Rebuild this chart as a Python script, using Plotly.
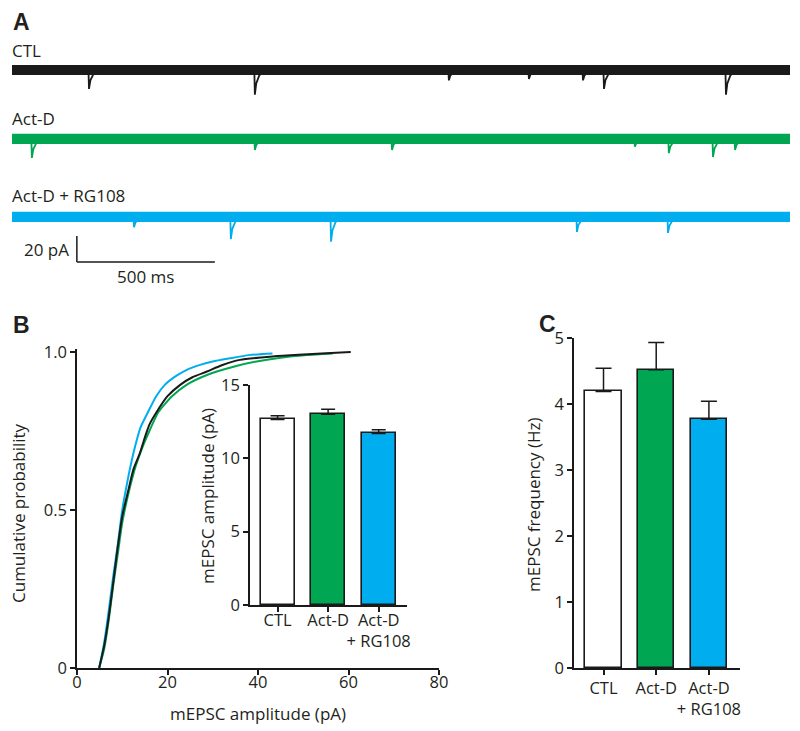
import plotly.graph_objects as go

# page body has an 8px default margin: figure is sized to fit the window with it
PAGE_MARGIN = 8
W, H = 800 - PAGE_MARGIN, 731 - PAGE_MARGIN
FONT = "Open Sans"
TXT = "#231f20"
BLACK = "#1a1a1a"
GREEN = "#00a651"
BLUE = "#00aeef"

# ---------------- Panel A data (traces) ----------------
TRACE_NAMES = ["CTL", "Act-D", "Act-D + RG108"]
TRACE_COLORS = [BLACK, GREEN, BLUE]
TRACE_DURATION_MS = 2819
CTL_EVENT_T = [279, 880, 1583, 1873, 2069, 2145, 2587]
CTL_EVENT_A = [14.6, 19.0, 8.0, 7.0, 8.0, 14.6, 19.0]
ACTD_EVENT_T = [72, 880, 1377, 2257, 2380, 2540, 2620]
ACTD_EVENT_A = [14.6, 8.5, 8.5, 6.0, 11.0, 14.0, 8.5]
RG_EVENT_T = [442, 793, 1156, 2047, 2377]
RG_EVENT_A = [8.0, 17.0, 19.0, 11.5, 12.3]
# mEPSC waveform template (time offset ms, fraction of peak)
EVENT_SHAPE_T = [-2, 0, 5, 16, 40]
EVENT_SHAPE_F = [0, 1, 0.55, 0.22, 0]
NOISE_HALF_PA = 3.3
SCALE_PA = 20
SCALE_MS = 500

# ---------------- Panel B data (cumulative distributions) ----------------
CDF_CTL_X = [4.9, 6, 7, 8, 8.8, 10, 11.3, 12.5, 13.9, 15, 16, 17.6, 20, 22.8, 25.5, 28.7, 32, 36, 42.6, 48, 54, 60.5]
CDF_CTL_Y = [0, 0.07, 0.16, 0.27, 0.36, 0.48, 0.56, 0.63, 0.68, 0.73, 0.77, 0.81, 0.86, 0.896, 0.92, 0.938, 0.958, 0.975, 0.985, 0.99, 0.995, 1.0]
CDF_ACTD_X = [4.9, 6, 7, 8, 9, 10, 11.5, 13, 14.5, 16, 18, 21, 24.2, 27.5, 30.9, 35, 39.7, 45, 50.8, 56.5]
CDF_ACTD_Y = [0, 0.06, 0.15, 0.26, 0.36, 0.46, 0.56, 0.64, 0.70, 0.75, 0.81, 0.86, 0.896, 0.92, 0.938, 0.955, 0.97, 0.982, 0.99, 0.995]
CDF_RG_X = [4.9, 6, 7, 8, 9, 10, 11, 12, 13, 14, 15.7, 17.5, 19.4, 22, 24.5, 27.2, 30, 33.8, 38, 43.2]
CDF_RG_Y = [0, 0.08, 0.18, 0.29, 0.39, 0.50, 0.58, 0.65, 0.71, 0.76, 0.81, 0.86, 0.896, 0.925, 0.945, 0.959, 0.97, 0.98, 0.99, 0.995]

# ---------------- Bar data ----------------
BAR_LABELS = ["CTL", "Act-D", "Act-D<br>+ RG108"]
BAR_COLORS = ["#ffffff", GREEN, BLUE]
AMP_MEAN = [12.65, 13.0, 11.7]
AMP_SEM = [0.25, 0.35, 0.25]
FREQ_MEAN = [4.19, 4.52, 3.77]
FREQ_SEM = [0.35, 0.41, 0.27]
AMP_TICKS = [0, 5, 10, 15]
FREQ_TICKS = [0, 1, 2, 3, 4, 5]
CDF_XTICKS = [0, 20, 40, 60, 80]
CDF_YTICKS = [0, 0.5, 1.0]
CDF_YTICKTEXT = ["0", "0.5", "1.0"]


def px_x(p):
    return (p - PAGE_MARGIN) / W


def px_y(p):
    return 1 - (p - PAGE_MARGIN) / H


fig = go.Figure()

# ---- Panel A ----
offsets = [0, -53, -113]
events = [(CTL_EVENT_T, CTL_EVENT_A), (ACTD_EVENT_T, ACTD_EVENT_A), (RG_EVENT_T, RG_EVENT_A)]
for name, col, off, (ts, amps) in zip(TRACE_NAMES, TRACE_COLORS, offsets, events):
    fig.add_trace(go.Scatter(
        x=[0, TRACE_DURATION_MS, TRACE_DURATION_MS, 0, 0],
        y=[off + NOISE_HALF_PA, off + NOISE_HALF_PA, off - NOISE_HALF_PA, off - NOISE_HALF_PA, off + NOISE_HALF_PA],
        fill="toself", fillcolor=col, mode="lines", line=dict(color=col, width=1.5),
        xaxis="x", yaxis="y", showlegend=False, hoverinfo="skip"))
    ex, ey = [], []
    for t, a in zip(ts, amps):
        for dt, f in zip(EVENT_SHAPE_T, EVENT_SHAPE_F):
            ex.append(t + dt)
            ey.append(off - a * f)
        ex.append(None)
        ey.append(None)
    fig.add_trace(go.Scatter(x=ex, y=ey, mode="lines", line=dict(color=col, width=1.8),
                             xaxis="x", yaxis="y", showlegend=False, hoverinfo="skip"))

sb_t0 = 235
sb_y0 = -147.7
fig.add_shape(type="line", xref="x", yref="y", x0=sb_t0, x1=sb_t0, y0=sb_y0, y1=sb_y0 + SCALE_PA,
              line=dict(color=BLACK, width=1.5))
fig.add_shape(type="line", xref="x", yref="y", x0=sb_t0, x1=sb_t0 + SCALE_MS, y0=sb_y0, y1=sb_y0,
              line=dict(color=BLACK, width=1.5))

# ---- Panel B: CDFs ----
for xs, ys, col in [(CDF_ACTD_X, CDF_ACTD_Y, GREEN), (CDF_RG_X, CDF_RG_Y, BLUE), (CDF_CTL_X, CDF_CTL_Y, BLACK)]:
    fig.add_trace(go.Scatter(x=xs, y=ys, mode="lines", line=dict(color=col, width=2, shape="spline", smoothing=0.6),
                             xaxis="x2", yaxis="y2", showlegend=False))

# ---- inset bars ----
ebar = dict(type="data", symmetric=False, arrayminus=[0, 0, 0], color=BLACK, thickness=1.5, width=7)
fig.add_trace(go.Bar(x=[0, 1, 2], y=AMP_MEAN, width=0.67,
                     marker=dict(color=BAR_COLORS, line=dict(color=BLACK, width=1.6)),
                     error_y=dict(ebar, array=AMP_SEM), xaxis="x3", yaxis="y3", showlegend=False))

# ---- Panel C bars ----
fig.add_trace(go.Bar(x=[0, 1, 2], y=FREQ_MEAN, width=0.69,
                     marker=dict(color=BAR_COLORS, line=dict(color=BLACK, width=1.6)),
                     error_y=dict(ebar, array=FREQ_SEM, width=8), xaxis="x4", yaxis="y4", showlegend=False))

tickfont = dict(family=FONT, size=16.5, color=TXT)
axis_common = dict(showline=True, linecolor=BLACK, linewidth=1.5, ticks="outside", ticklen=5,
                   tickwidth=1.5, tickcolor=BLACK, showgrid=False, zeroline=False, tickfont=tickfont,
                   fixedrange=True, automargin=False, tickangle=0)
hidden = dict(visible=False, showgrid=False, zeroline=False, fixedrange=True, automargin=False)

fig.update_layout(
    width=W, height=H, margin=dict(l=0, r=0, t=0, b=0, autoexpand=False),
    paper_bgcolor="white", plot_bgcolor="rgba(0,0,0,0)",
    font=dict(family=FONT, color=TXT), bargap=0,
    xaxis=dict(hidden, domain=[px_x(12), px_x(790)], range=[0, TRACE_DURATION_MS]),
    yaxis=dict(hidden, domain=[px_y(280), px_y(40)], range=[-161.5, 23]),
    xaxis2=dict(axis_common, domain=[px_x(77), px_x(439)], range=[0, 80], tickvals=CDF_XTICKS,
                anchor="y2", ticklabelstandoff=-7),
    yaxis2=dict(axis_common, domain=[px_y(668), px_y(348.8)], range=[0, 1.01], tickvals=CDF_YTICKS,
                ticktext=CDF_YTICKTEXT, anchor="x2"),
    xaxis3=dict(axis_common, domain=[px_x(250), px_x(407)], range=[-0.545, 2.56], tickvals=[0, 1, 2],
                ticktext=BAR_LABELS, anchor="y3", ticklabelstandoff=-6),
    yaxis3=dict(axis_common, domain=[px_y(605), px_y(385)], range=[0, 15], tickvals=AMP_TICKS, anchor="x3"),
    xaxis4=dict(axis_common, domain=[px_x(574), px_x(740)], range=[-0.56, 2.59], tickvals=[0, 1, 2],
                ticktext=BAR_LABELS, anchor="y4", ticklabelstandoff=-1),
    yaxis4=dict(axis_common, domain=[px_y(668), px_y(338)], range=[0, 5], tickvals=FREQ_TICKS, anchor="x4"),
)

annots = []


def text(x, y, s, size=17, xanchor="center", yanchor="middle", angle=0, bold=False, family=FONT):
    annots.append(dict(x=px_x(x), y=px_y(y), xref="paper", yref="paper", text=f"<b>{s}</b>" if bold else s,
                       showarrow=False, xanchor=xanchor, yanchor=yanchor, textangle=angle,
                       font=dict(family=family, size=size, color=TXT)))


PANEL_FONT = "Liberation Sans"
text(11, 22, "A", size=23, xanchor="left", bold=True, family=PANEL_FONT)
text(11, 325, "B", size=23, xanchor="left", bold=True, family=PANEL_FONT)
text(537, 324, "C", size=23, xanchor="left", bold=True, family=PANEL_FONT)
text(10, 50, TRACE_NAMES[0], xanchor="left")
text(10, 118, TRACE_NAMES[1], xanchor="left")
text(10, 196, TRACE_NAMES[2], xanchor="left")
text(71, 250, f"{SCALE_PA} pA", xanchor="right")
text(145, 276, f"{SCALE_MS} ms")
text(18, 513, "Cumulative probability", angle=-90)
text(258, 713, "mEPSC amplitude (pA)")
text(207, 496, "mEPSC amplitude (pA)", angle=-90)
text(533, 505, "mEPSC frequency (Hz)", angle=-90)
fig.update_layout(annotations=annots)

fig.write_html("out.html")
